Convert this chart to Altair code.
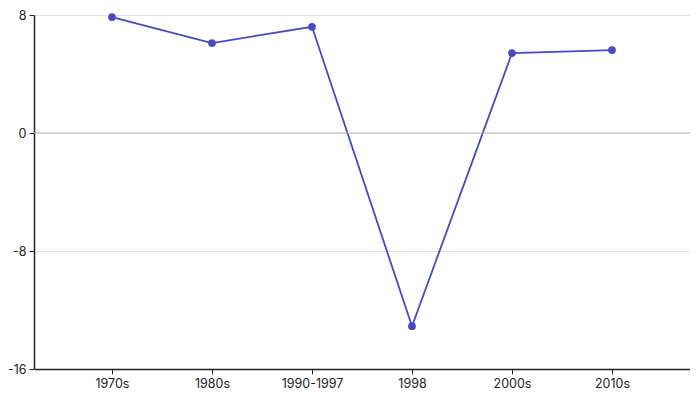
import altair as alt
import pandas as pd

periods = ["1970s", "1980s", "1990-1997", "1998", "2000s", "2010s"]
values = [7.86, 6.1, 7.2, -13.1, 5.42, 5.62]

df = pd.DataFrame({"period": periods, "value": values})
zero_df = pd.DataFrame({"z": [0]})

FONT = "Inter"
COLOR = "#4848c4"

x = alt.X("period:N", sort=periods, title=None,
          scale=alt.Scale(type="point", padding=0.78),
          axis=alt.Axis(labelAngle=0, labelFont=FONT, labelFontSize=12.5, labelColor="#222",
                        domainColor="#222", domainWidth=1.5, tickColor="#222", tickSize=5,
                        labelPadding=3, grid=False, zindex=1))
y = alt.Y("value:Q", title=None,
          scale=alt.Scale(domain=[-16, 8], nice=False),
          axis=alt.Axis(values=[-16, -8, 0, 8], labelFont=FONT, labelFontSize=12.5, labelColor="#222",
                        labelExpr="toString(datum.value)",
                        domainColor="#222", domainWidth=1.5, tickColor="#222", tickSize=5,
                        gridColor="#e0e0e0", gridWidth=1, labelPadding=3))

base = alt.Chart(df)
zero = alt.Chart(zero_df).mark_rule(color="#bbbbbb", strokeWidth=1.2).encode(y=alt.Y("z:Q"))
line = base.mark_line(color=COLOR, strokeWidth=1.8).encode(x=x, y=y)
pts = base.mark_circle(color=COLOR, size=60, opacity=1).encode(x=x, y=y)

chart = alt.layer(line, zero, pts).properties(
    width=656, height=354,
    autosize=alt.AutoSizeParams(type="none"),
    padding={"left": 26, "top": 7, "right": 0, "bottom": 20},
).configure_view(stroke=None).configure(background="white")

chart.save("out.html", embed_options={"renderer": "svg", "actions": False})
